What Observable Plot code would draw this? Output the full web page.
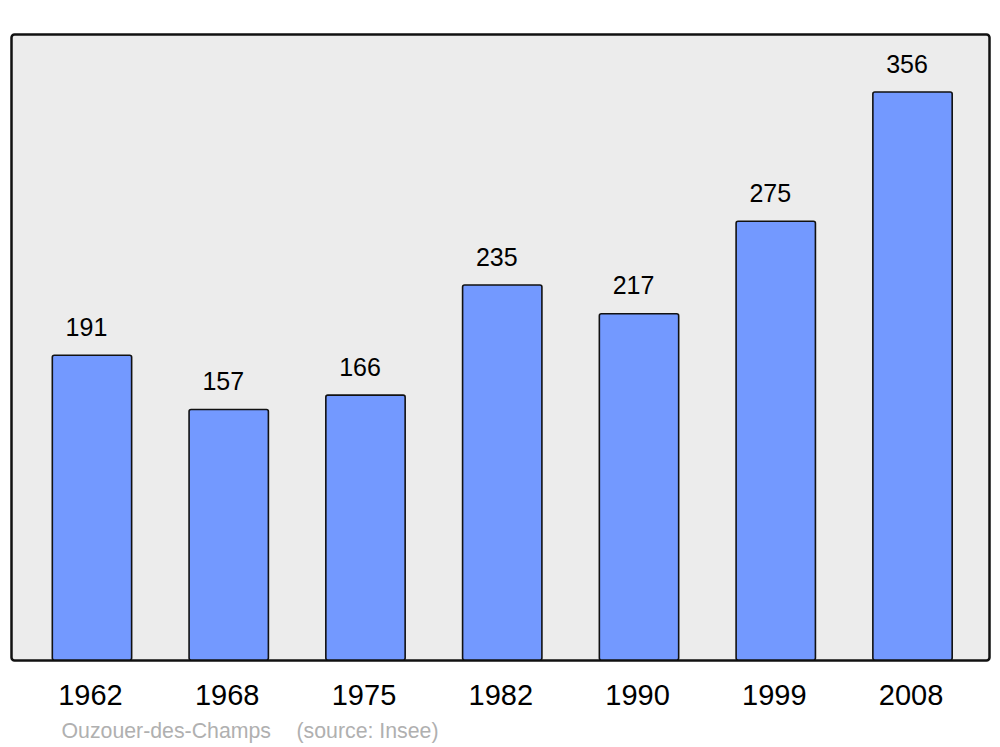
<!DOCTYPE html>
<html>
<head>
<meta charset="utf-8">
<script src="https://cdn.jsdelivr.net/npm/d3@7"></script>
<script src="https://cdn.jsdelivr.net/npm/@observablehq/plot@0.6"></script>
<style>
  html, body { margin: 0; padding: 0; background: #fff; }
  svg { display: block; }
</style>
</head>
<body>
<div id="chart"></div>
<script>
const years = ["1962", "1968", "1975", "1982", "1990", "1999", "2008"];
const population = [191, 157, 166, 235, 217, 275, 356];
const placeName = "Ouzouer-des-Champs";
const sourceText = "(source: Insee)";

const data = years.map((y, i) => ({year: y, value: population[i]}));

const chart = Plot.plot({
  width: 1000,
  height: 747,
  marginLeft: 11,
  marginRight: 11,
  marginTop: 34,
  marginBottom: 87,
  style: {fontFamily: "'Liberation Sans', Arial, sans-serif", background: "#fff"},
  x: {domain: years, range: [23.6, 980.9], paddingInner: 0.42, paddingOuter: 0.21, round: false, axis: null},
  y: {domain: [0, 356], range: [660, 92], axis: null},
  marks: [
    Plot.frame({fill: "#ececec", stroke: "#111", strokeWidth: 2.5, rx: 3}),
    Plot.barY(data, {x: "year", y: "value", fill: "#7399ff", stroke: "#111", strokeWidth: 1.6, rx: 2}),
    Plot.text(data, {x: "year", y: "value", text: d => String(d.value), dx: -6, dy: -28, fontSize: 25, fill: "#000"}),
    Plot.text(data, {x: "year", text: "year", frameAnchor: "bottom", dx: -2, dy: 44, fontSize: 29, fill: "#000"}),
    Plot.text([placeName], {text: d => d, frameAnchor: "bottom-left", dx: 50, dy: 77, textAnchor: "start", fontSize: 21.3, fill: "#b0b0b0"}),
    Plot.text([sourceText], {text: d => d, frameAnchor: "bottom-left", dx: 285, dy: 77, textAnchor: "start", fontSize: 21.3, fill: "#b0b0b0"})
  ]
});
document.getElementById("chart").appendChild(chart);
</script>
</body>
</html>
